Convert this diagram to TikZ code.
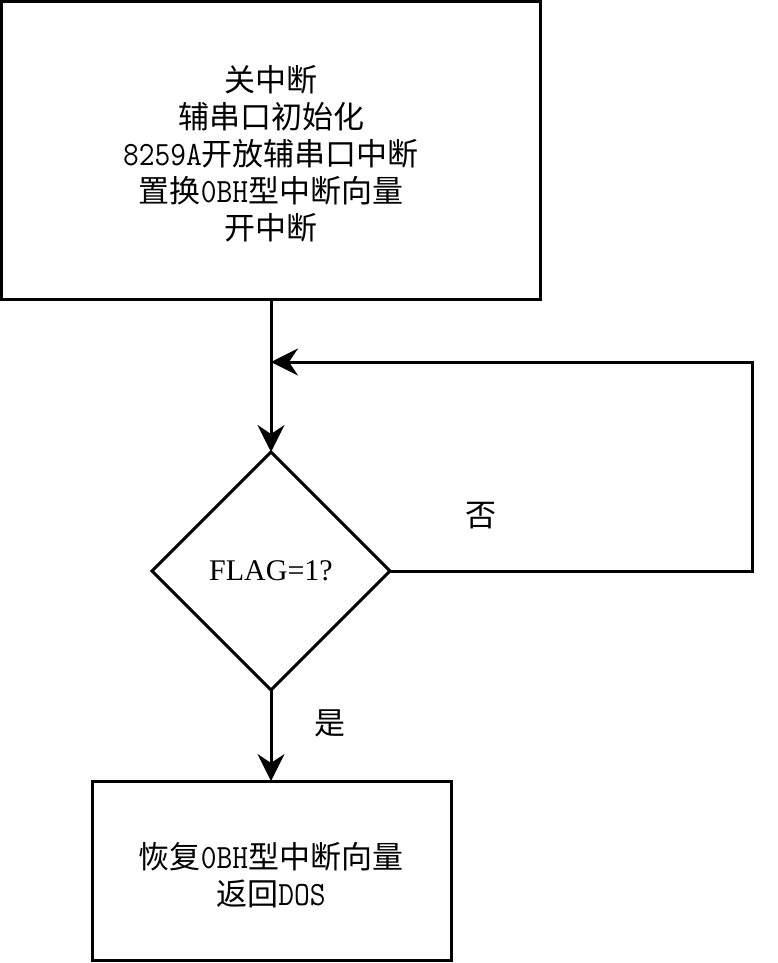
\documentclass[tikz,border=0pt]{standalone}
\usepackage{fontspec}
\setmainfont{Liberation Serif}
\newfontfamily\cjk{Noto Sans CJK SC}
\newfontfamily\latfont[FakeStretch=0.9]{Latin Modern Mono}
\newcommand{\lat}[1]{{\fontsize{34}{37}\latfont #1}}
\usetikzlibrary{arrows.meta}
\begin{document}
\begin{tikzpicture}[x=1pt,y=-1pt,
  every node/.style={inner sep=0pt,outer sep=0pt},
  flow/.style={line width=3pt,
    -{Stealth[length=27pt,width=27pt,inset=9pt]}},
  edge/.style={line width=3pt},
  txt/.style={font=\fontsize{31}{37}\cjk,align=center},
  cond/.style={font=\fontsize{30}{36}\selectfont}]
\useasboundingbox (0,0) rectangle (777,963);
% initialisation block
\draw[edge] (1.5,1.5) rectangle (540,299.5);
\node[txt] (init) at (271,154) {关中断\\辅串口初始化\\\lat{8259A}开放辅串口中断\\置换\lat{0BH}型中断向量\\开中断};
\coordinate (initb) at (271,299.5);
% decision
\coordinate (dt) at (271,452);
\coordinate (dl) at (152,571);
\coordinate (dr) at (390,571);
\coordinate (db) at (271,690);
\draw[edge,line join=miter] (dt) -- (dr) -- (db) -- (dl) -- cycle;
\node[cond] (flag) at (271,571) {FLAG=1?};
% exit block
\draw[edge] (92.5,781) rectangle (451,960);
\node[txt] (exit) at (271,875) {恢复\lat{0BH}型中断向量\\返回\lat{DOS}};
\coordinate (exitt) at (271,781);
% connectors
\coordinate (join) at (271,362);
\coordinate (lr) at (752,571);
\coordinate (lt) at (752,362);
\draw[flow] (initb) -- (dt);
\draw[flow,line join=miter] (dr) -- (lr) -- (lt) -- (join);
\draw[flow] (db) -- (exitt);
\node[txt] (no) at (481,516) {否};
\node[txt] (yes) at (330,723) {是};
\end{tikzpicture}
\end{document}
